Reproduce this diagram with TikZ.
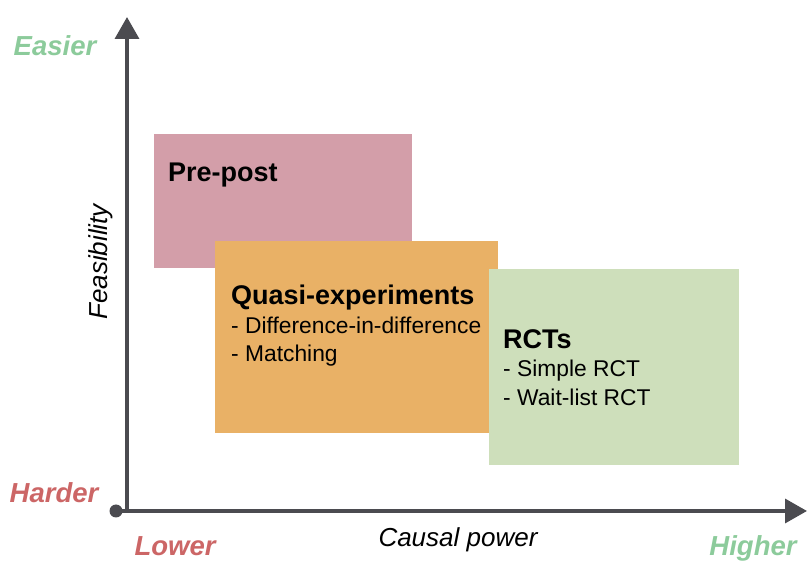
\documentclass[tikz,border=0pt]{standalone}
\usepackage{fontspec}
\setmainfont{Liberation Sans}
\usetikzlibrary{arrows.meta}
\definecolor{axisgray}{HTML}{4B4B50}
\definecolor{ppcol}{HTML}{D39EA9}
\definecolor{qecol}{HTML}{E9B166}
\definecolor{rctcol}{HTML}{CEDFBB}
\definecolor{lowgreen}{HTML}{8CCB9B}
\definecolor{lowred}{HTML}{CC6666}
\tikzset{
  region/.style={draw=none, inner sep=0pt, anchor=north west},
  axisline/.style={draw=axisgray, line width=3.6pt, -{Triangle[length=22pt,width=24pt]}},
  title/.style={anchor=base west, inner sep=0pt, font=\fontsize{27}{31}\selectfont\bfseries},
  item/.style={anchor=base west, inner sep=0pt, font=\fontsize{22.8}{28}\selectfont},
  axlabel/.style={inner sep=0pt, font=\fontsize{26}{30}\selectfont\itshape},
  endlabel/.style={inner sep=0pt, font=\fontsize{27.5}{31}\selectfont\bfseries\itshape},
}
\begin{document}
\begin{tikzpicture}[x=1pt,y=-1pt]
\useasboundingbox (0,0) rectangle (807,561);
% regions
\node[region, fill=ppcol, minimum width=258pt, minimum height=134pt] (pp) at (154,134) {};
\node[region, fill=qecol, minimum width=283pt, minimum height=192pt] (qe) at (215,241) {};
\node[region, fill=rctcol, minimum width=250pt, minimum height=196pt] (rct) at (489,269) {};
% texts
\node[title] (pptitle) at (168,182) {Pre-post};
\node[title] (qetitle) at (231,305) {Quasi-experiments};
\node[item] (qeitemA) at (231,334) {- Difference-in-difference};
\node[item] (qeitemB) at (231,362) {- Matching};
\node[title] (rcttitle) at (503,349) {RCTs};
\node[item] (rctitemA) at (503,377) {- Simple RCT};
\node[item] (rctitemB) at (503,406) {- Wait-list RCT};
% axes
\coordinate (corner) at (127,511);
\coordinate (xend) at (807,511);
\coordinate (yend) at (127,17);
\node[circle, fill=axisgray, inner sep=0pt, minimum size=13pt] (dot) at (116,511) {};
\draw[axisline] (dot.center) -- (xend);
\draw[axisline] (corner) -- (yend);
% axis labels
\node[axlabel, rotate=90] (ylab) at (101,262) {Feasibility};
\node[axlabel] (xlab) at (458,540) {Causal power};
\node[endlabel, text=lowgreen] (easier) at (55,46) {Easier};
\node[endlabel, text=lowred] (harder) at (54,493) {Harder};
\node[endlabel, text=lowred, anchor=base] (lower) at (175,555) {Lower};
\node[endlabel, text=lowgreen, anchor=base] (higher) at (753,555) {Higher};
\end{tikzpicture}
\end{document}
